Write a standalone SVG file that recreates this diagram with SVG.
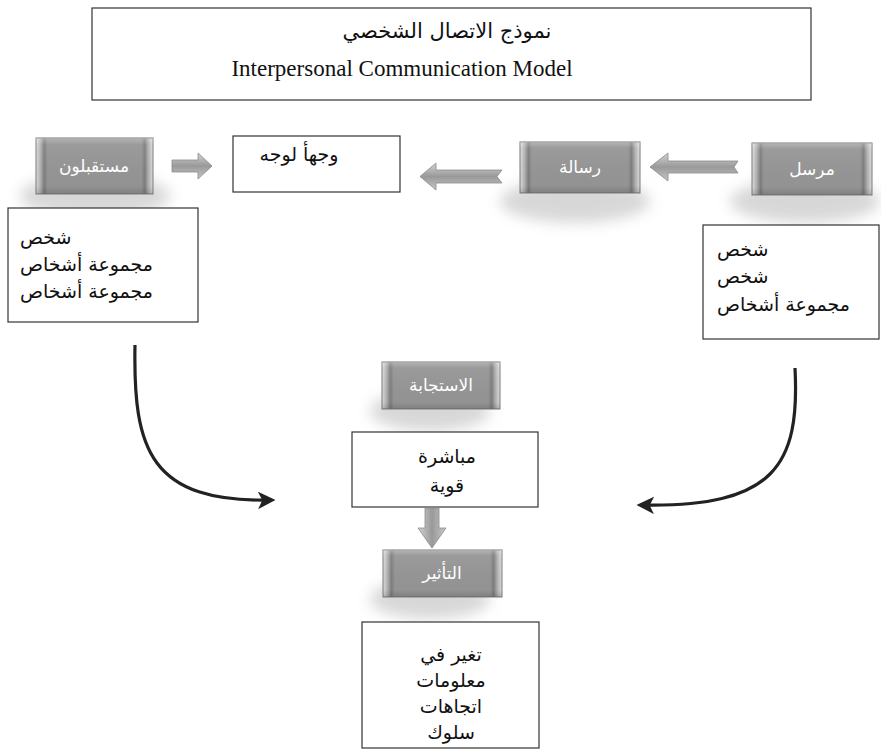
<svg xmlns="http://www.w3.org/2000/svg" width="881" height="753" viewBox="0 0 881 753">
<defs>
<linearGradient id="btn" x1="0" y1="0" x2="1" y2="0">
<stop offset="0" stop-color="#e0e0e0"/>
<stop offset="0.04" stop-color="#b0b0b0"/>
<stop offset="0.07" stop-color="#7e7e7e"/>
<stop offset="0.1" stop-color="#969696"/>
<stop offset="0.9" stop-color="#969696"/>
<stop offset="0.93" stop-color="#7e7e7e"/>
<stop offset="0.96" stop-color="#b0b0b0"/>
<stop offset="1" stop-color="#e0e0e0"/>
</linearGradient>
<linearGradient id="sheen" x1="0" y1="0" x2="0" y2="1">
<stop offset="0" stop-color="#ffffff" stop-opacity="0.3"/>
<stop offset="0.12" stop-color="#ffffff" stop-opacity="0.05"/>
<stop offset="0.85" stop-color="#000000" stop-opacity="0.02"/>
<stop offset="1" stop-color="#000000" stop-opacity="0.15"/>
</linearGradient>
<linearGradient id="arrH" x1="0" y1="0" x2="0" y2="1">
<stop offset="0" stop-color="#d4d4d4"/>
<stop offset="0.5" stop-color="#999"/>
<stop offset="1" stop-color="#c8c8c8"/>
</linearGradient>
<linearGradient id="arrV" x1="0" y1="0" x2="1" y2="0">
<stop offset="0" stop-color="#d4d4d4"/>
<stop offset="0.5" stop-color="#999"/>
<stop offset="1" stop-color="#c8c8c8"/>
</linearGradient>
<filter id="blur" x="-50%" y="-50%" width="200%" height="200%">
<feGaussianBlur stdDeviation="7"/>
</filter>
<marker id="head" viewBox="0 0 10 10" refX="8" refY="5" markerWidth="5.5" markerHeight="5.5" orient="auto" markerUnits="strokeWidth">
<path d="M0,0 L10,5 L0,10 L2.5,5 Z" fill="#222"/>
</marker>
<style>
.box{fill:#fff;stroke:#333;stroke-width:1.2}
.btnrect{fill:url(#btn);stroke:#7a7a7a;stroke-width:1}
.shadow{fill:#b8b8b8;opacity:0.55;filter:url(#blur)}
.btntxt{font-family:"DejaVu Sans",sans-serif;font-size:17px;fill:#fff;text-anchor:middle}
.ar{font-family:"DejaVu Sans","Liberation Sans",sans-serif;font-size:19px;fill:#111}
.mid{text-anchor:middle}
.title-ar{font-family:"DejaVu Sans",serif;font-size:21px;fill:#111;text-anchor:middle}
.title-en{font-family:"Liberation Serif",serif;font-size:23px;fill:#111;text-anchor:middle}
.curve{fill:none;stroke:#222;stroke-width:3.2;marker-end:url(#head)}
.blk{stroke:#8a8a8a;stroke-width:0.8}
</style>
</defs>
<rect width="881" height="753" fill="#fff"/>

<g id="title">
<rect class="box" x="92" y="8" width="719" height="92"/>
<text class="title-ar" x="447" y="38">نموذج الاتصال الشخصي</text>
<text class="title-en" x="402" y="76">Interpersonal Communication Model</text>
</g>

<g id="receiver">
<ellipse class="shadow" cx="95" cy="196" rx="75" ry="22"/>
<rect class="btnrect" x="36" y="138" width="117" height="56"/>
<rect x="36" y="138" width="117" height="56" fill="url(#sheen)"/>
<text class="btntxt" x="94" y="172">مستقبلون</text>
</g>

<g id="facetoface">
<rect class="box" x="233" y="136" width="167" height="56"/>
<text class="ar" x="299" y="161" text-anchor="middle">وجهأ لوجه</text>
</g>

<g id="message">
<ellipse class="shadow" cx="575" cy="201" rx="75" ry="22"/>
<rect class="btnrect" x="520" y="142" width="120" height="51"/>
<rect x="520" y="142" width="120" height="51" fill="url(#sheen)"/>
<text class="btntxt" x="580" y="173">رسالة</text>
</g>

<g id="sender">
<ellipse class="shadow" cx="805" cy="201" rx="75" ry="22"/>
<rect class="btnrect" x="752" y="143" width="120" height="52"/>
<rect x="752" y="143" width="120" height="52" fill="url(#sheen)"/>
<text class="btntxt" x="812" y="175">مرسل</text>
</g>

<g id="receiver-list">
<rect class="box" x="8" y="208" width="190" height="114"/>
<text class="ar" x="20" y="244">شخص</text>
<text class="ar" x="20" y="271">مجموعة أشخاص</text>
<text class="ar" x="20" y="298">مجموعة أشخاص</text>
</g>

<g id="sender-list">
<rect class="box" x="703" y="225" width="176" height="114"/>
<text class="ar" x="717" y="256">شخص</text>
<text class="ar" x="717" y="283">شخص</text>
<text class="ar" x="717" y="311">مجموعة أشخاص</text>
</g>

<g id="response">
<ellipse class="shadow" cx="430" cy="411" rx="60" ry="20"/>
<rect class="btnrect" x="382" y="362" width="118" height="47"/>
<rect x="382" y="362" width="118" height="47" fill="url(#sheen)"/>
<text class="btntxt" x="441" y="391">الاستجابة</text>
</g>

<g id="response-list">
<rect class="box" x="352" y="432" width="186" height="75"/>
<text class="ar mid" x="447" y="463">مباشرة</text>
<text class="ar mid" x="447" y="492">قوية</text>
</g>

<g id="influence">
<ellipse class="shadow" cx="430" cy="599" rx="60" ry="20"/>
<rect class="btnrect" x="383" y="550" width="119" height="47"/>
<rect x="383" y="550" width="119" height="47" fill="url(#sheen)"/>
<text class="btntxt" x="442" y="579">التأثير</text>
</g>

<g id="influence-list">
<rect class="box" x="362" y="622" width="177" height="126"/>
<text class="ar mid" x="451" y="661">تغير في</text>
<text class="ar mid" x="451" y="687">معلومات</text>
<text class="ar mid" x="451" y="713">اتجاهات</text>
<text class="ar mid" x="451" y="739">سلوك</text>
</g>

<g id="connectors">
<path class="blk" fill="url(#arrH)" d="M172,160 L198,160 L198,153 L212,166 L198,179 L198,172 L172,172 Z"/>
<path class="blk" fill="url(#arrH)" d="M502,170 L436,170 L436,163 L420,176.5 L436,190 L436,183 L502,183 L497,176.5 Z"/>
<path class="blk" fill="url(#arrH)" d="M738,161 L668,161 L668,153 L650,167 L668,181 L668,173 L738,173 L734,167 Z"/>
<path class="blk" fill="url(#arrV)" d="M425,508 L439,508 L439,528 L446,528 L432,548 L418,528 L425,528 Z"/>
<path class="curve" d="M135,345 C133,450 150,503 272,500"/>
<path class="curve" d="M795,368 C800,465 775,508 640,505"/>
</g>
</svg>
